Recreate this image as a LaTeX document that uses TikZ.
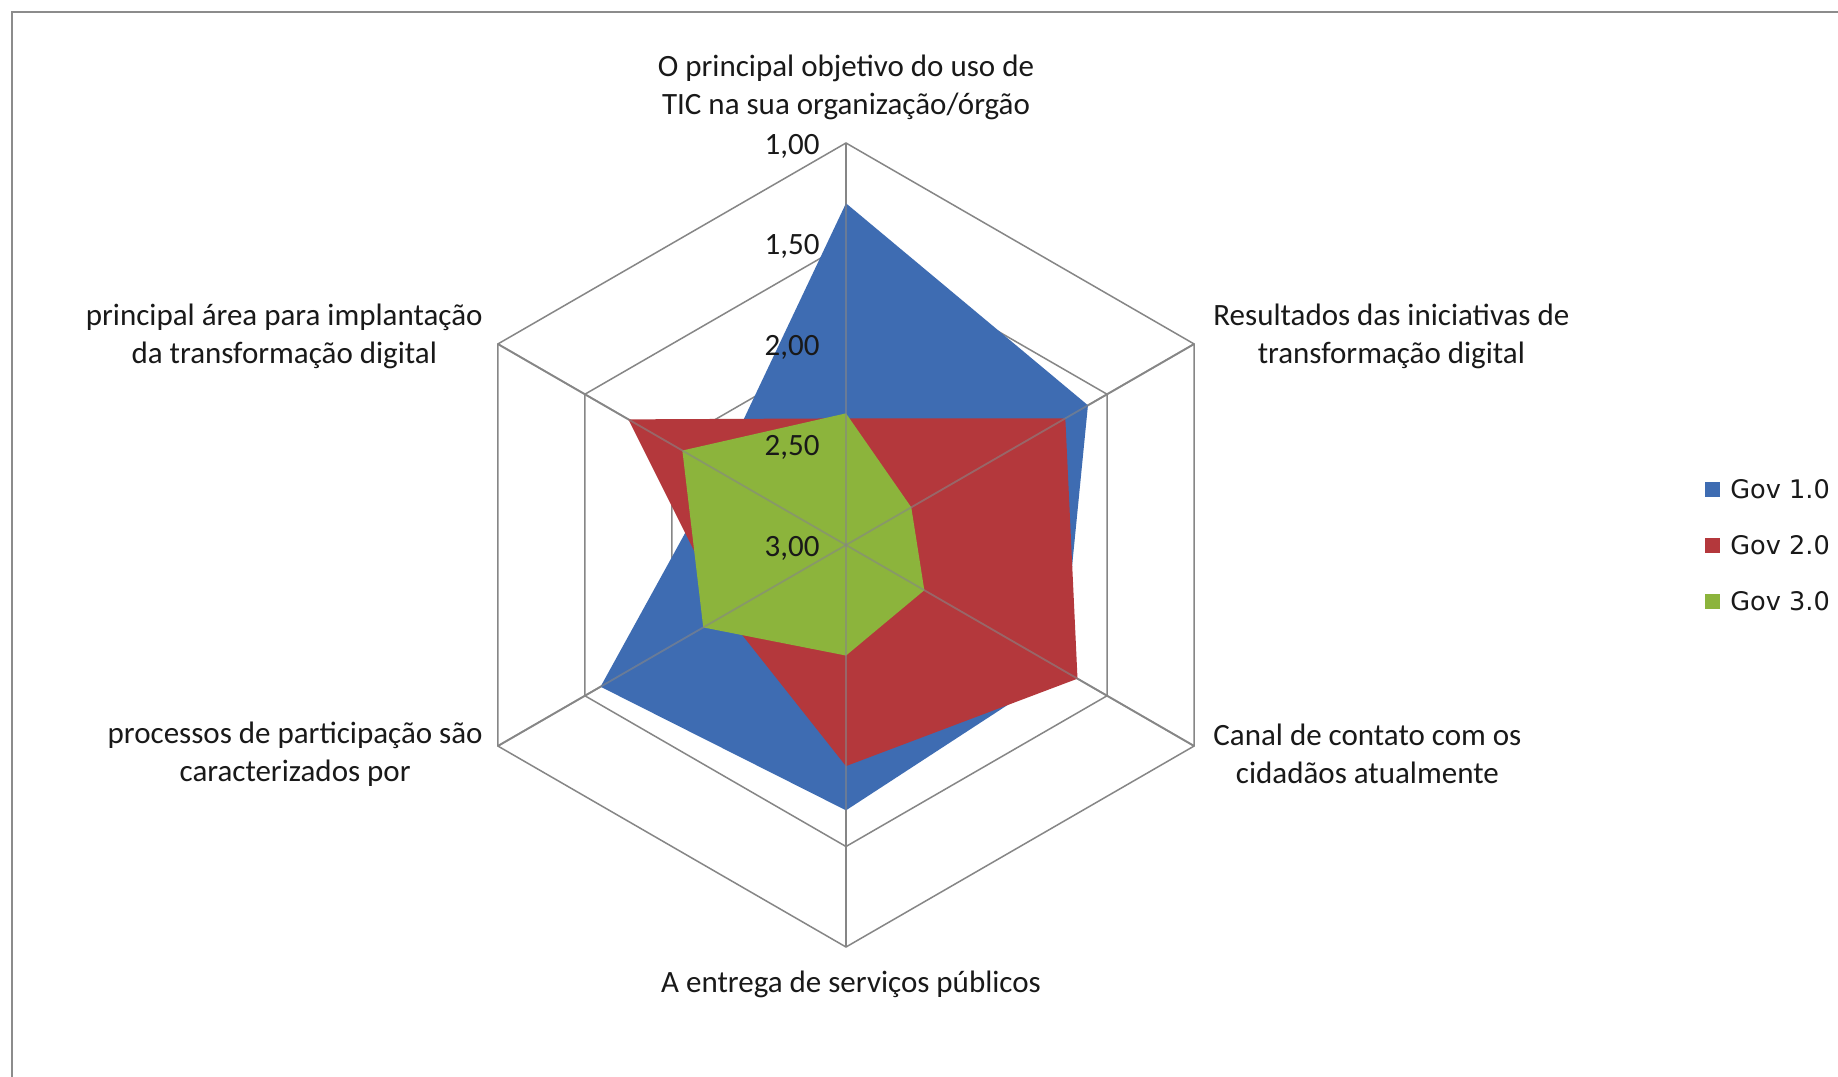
\documentclass[tikz,border=0pt]{standalone}
\usepackage{fontspec}
\setmainfont{Carlito}
\newfontfamily\legfont{DejaVu Sans}
\definecolor{gridgray}{RGB}{134,134,134}
\definecolor{framegray}{RGB}{140,140,140}
\definecolor{sblue}{RGB}{62,108,178}
\definecolor{sred}{RGB}{180,56,60}
\definecolor{sgreen}{RGB}{140,180,60}
\definecolor{txt}{RGB}{25,25,25}
\begin{document}
\begin{tikzpicture}[x=0.5pt,y=0.5pt,
  ring/.style={draw=gridgray, line width=0.75pt},
  spokeline/.style={draw=gridgray, line width=0.9pt},
  spoketop/.style={draw=gridgray, line width=0.9pt, draw opacity=0.6},
  axlabel/.style={font=\fontsize{15.5}{18.75}\selectfont, text=txt, align=center, inner sep=0pt},
  ticklabel/.style={font=\fontsize{15.5}{18}\selectfont, text=txt, anchor=east, inner sep=0pt},
  legtext/.style={font=\legfont\fontsize{12.8}{15}\selectfont, text=txt, anchor=west, inner sep=0pt},
  legbox/.style={minimum size=7.5pt, inner sep=0pt, draw=none}]
\useasboundingbox (-846,-532) rectangle (992,545);
\fill[white] (-846,-532) rectangle (992,545);
% frame
\draw[framegray, line width=1pt] (-834,-532) -- (-834,533) -- (992,533);
\coordinate (C) at (0,0);
% rings
\foreach \r in {402,301.5,201,100.5}
  \draw[ring] (90:\r) -- (30:\r) -- (-30:\r) -- (-90:\r) -- (-150:\r) -- (150:\r) -- cycle;
% spokes under fills
\foreach \a in {90,30,-30,-90,-150,150}
  \draw[spokeline] (C) -- (\a:402);
% series Gov 1.0
\fill[sblue] (90:{(3-1.30)*201}) -- (30:{(3-1.61)*201}) -- (-30:{(3-1.76)*201})
  -- (-90:{(3-1.68)*201}) -- (-150:{(3-1.59)*201}) -- (150:{(3-2.27)*201}) -- cycle;
% series Gov 2.0
\fill[sred] (90:{(3-2.37)*201}) -- (30:{(3-1.74)*201}) -- (-30:{(3-1.67)*201})
  -- (-90:{(3-1.90)*201}) -- (-150:{(3-2.31)*201}) -- (150:{(3-1.75)*201}) -- cycle;
% series Gov 3.0
\fill[sgreen] (90:{(3-2.345)*201}) -- (30:{(3-2.625)*201}) -- (-30:{(3-2.55)*201})
  -- (-90:{(3-2.45)*201}) -- (-150:{(3-2.18)*201}) -- (150:{(3-2.06)*201}) -- cycle;
% spokes over fills
\foreach \a in {90,30,-30,-90,-150,150}
  \draw[spoketop] (C) -- (\a:402);
% tick labels
\node[ticklabel] (t100) at (-26,399) {1,00};
\node[ticklabel] (t150) at (-26,298.5) {1,50};
\node[ticklabel] (t200) at (-26,198) {2,00};
\node[ticklabel] (t250) at (-26,97.5) {2,50};
\node[ticklabel] (t300) at (-26,-3) {3,00};
% axis labels
\node[axlabel] (ax0) at (0,457.5) {O principal objetivo do uso de\\TIC na sua organização/órgão};
\node[axlabel, anchor=west] (ax1) at (367,208.6) {Resultados das iniciativas de\\transformação digital};
\node[axlabel, anchor=west] (ax2) at (367,-209) {Canal de contato com os\\cidadãos atualmente};
\node[axlabel] (ax3) at (5,-439.7) {A entrega de serviços públicos};
\node[axlabel, anchor=east] (ax4) at (-363,-209) {processos de participação são\\caracterizados por};
\node[axlabel, anchor=east] (ax5) at (-363,208.6) {principal área para implantação\\da transformação digital};
% legend
\node[legbox, fill=sblue] (k1) at (866.5,55.5) {};
\node[legtext] (l1) at (884,55.5) {Gov 1.0};
\node[legbox, fill=sred] (k2) at (866.5,-0.5) {};
\node[legtext] (l2) at (884,-0.5) {Gov 2.0};
\node[legbox, fill=sgreen] (k3) at (866.5,-56.5) {};
\node[legtext] (l3) at (884,-56.5) {Gov 3.0};
\end{tikzpicture}
\end{document}
